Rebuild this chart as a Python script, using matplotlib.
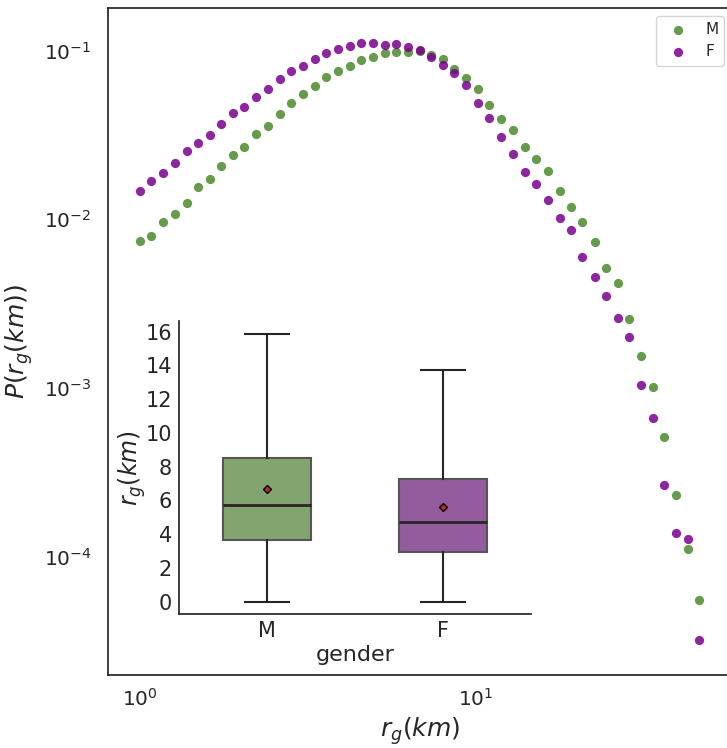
import numpy as np
import matplotlib.pyplot as plt

plt.rcParams['font.family'] = ['DejaVu Sans']
plt.rcParams['mathtext.fontset'] = 'dejavusans'
plt.rcParams['text.color'] = '.15'
plt.rcParams['axes.labelcolor'] = '.15'
plt.rcParams['xtick.color'] = '.15'
plt.rcParams['ytick.color'] = '.15'

# radius of gyration bins (km), log spaced
r_g = [1.00, 1.08, 1.17, 1.27, 1.38, 1.49, 1.62, 1.75, 1.90, 2.05,
       2.22, 2.41, 2.61, 2.83, 3.06, 3.32, 3.59, 3.89, 4.22, 4.57,
       4.95, 5.36, 5.80, 6.29, 6.81, 7.38, 7.99, 8.65, 9.37, 10.15,
       11.0, 11.9, 12.9, 14.0, 15.1, 16.4, 17.8, 19.2, 20.8, 22.6,
       24.5, 26.5, 28.7, 31.1, 33.7, 36.5, 39.5, 42.8, 46.4]

p_male = [0.00746, 0.00795, 0.00967, 0.01078, 0.01247, 0.01545, 0.01739, 0.02077, 0.02390, 0.02667,
          0.03214, 0.03569, 0.04203, 0.04861, 0.05498, 0.06160, 0.06966, 0.07558, 0.08129, 0.08824,
          0.09192, 0.09621, 0.09797, 0.09841, 0.09932, 0.09447, 0.08864, 0.07801, 0.06871, 0.05938,
          0.04751, 0.03926, 0.03395, 0.02667, 0.02284, 0.01940, 0.01476, 0.01181, 0.00962, 0.00729,
          0.00511, 0.00418, 0.00256, 0.001545, 0.001017, 0.000512, 0.000232, 0.0001114, 0.0000555]

p_female = [0.01476, 0.01684, 0.01887, 0.02153, 0.02525, 0.02829, 0.03155, 0.03651, 0.04242, 0.04646,
            0.05302, 0.05886, 0.06746, 0.07593, 0.08129, 0.08864, 0.09621, 0.1025, 0.1068, 0.1113,
            0.1113, 0.1083, 0.1098, 0.1049, 0.1002, 0.09152, 0.08241, 0.07355, 0.06244, 0.04906,
            0.03981, 0.03085, 0.02423, 0.01896, 0.01617, 0.01294, 0.01012, 0.00863, 0.00600, 0.00452,
            0.00350, 0.00261, 0.001995, 0.001041, 0.000660, 0.000266, 0.000138, 0.0001277, 0.0000319]

# box plot summary of r_g per gender
genders = ['M', 'F']
box_q1 = [3.66, 2.93]
box_med = [5.73, 4.74]
box_q3 = [8.50, 7.25]
box_lo = [0.0, 0.0]
box_hi = [15.84, 13.71]
box_mean = [6.70, 5.61]

c_m = '#4a8a2a'
c_f = '#7a0090'
box_colors = ['#82a56f', '#945b9e']

fig = plt.figure(figsize=(7.27, 7.48), dpi=100)
ax = fig.add_axes([108 / 727, 1 - 675 / 748, (732 - 108) / 727, (675 - 8) / 748])

ax.scatter(r_g, p_male, s=44, color=c_m, alpha=0.85, linewidths=0, label='M')
ax.scatter(r_g, p_female, s=44, color=c_f, alpha=0.85, linewidths=0, label='F')
ax.set_xscale('log')
ax.set_yscale('log')
ax.set_xlim(0.805, 58)
ax.set_ylim(1.99e-5, 0.1786)
ax.xaxis.set_minor_formatter(plt.NullFormatter())
ax.yaxis.set_minor_formatter(plt.NullFormatter())
ax.tick_params(which='both', length=0, labelsize=14.5)
ax.tick_params(axis='y', pad=12)
ax.tick_params(axis='x', pad=9)
for s in ax.spines.values():
    s.set_color('.15')
    s.set_linewidth(1.25)
ax.set_xlabel('$r_g(km)$', fontsize=18, labelpad=4)
ax.set_ylabel('$P(r_g(km))$', fontsize=18, labelpad=6)
leg = ax.legend(loc='upper right', fontsize=11, frameon=True, handletextpad=0.8)
leg.get_frame().set_edgecolor('.8')

# inset box plot
ins = fig.add_axes([179 / 727, 1 - 614.3 / 748, (531 - 179) / 727, (614.3 - 321) / 748])
stats = []
for i, g in enumerate(genders):
    stats.append(dict(label=g, q1=box_q1[i], med=box_med[i], q3=box_q3[i],
                      whislo=box_lo[i], whishi=box_hi[i], mean=box_mean[i], fliers=[]))
bp = ins.bxp(stats, positions=[0, 1], widths=0.5, patch_artist=True, showmeans=True,
             boxprops=dict(edgecolor='#555555', linewidth=1.5),
             whiskerprops=dict(color='.15', linewidth=1.5),
             capprops=dict(color='.15', linewidth=1.5),
             medianprops=dict(color='.15', linewidth=2),
             meanprops=dict(marker='D', markerfacecolor='#c0262c', markeredgecolor='black',
                            markersize=4.5, markeredgewidth=1))
for patch, col in zip(bp['boxes'], box_colors):
    patch.set_facecolor(col)
ins.set_xlim(-0.5, 1.5)
ins.set_ylim(-0.75, 16.63)
ins.set_yticks(np.arange(0, 17, 2))
ins.set_xticks([0, 1])
ins.set_xticklabels(genders)
ins.tick_params(length=0, labelsize=15, pad=5)
ins.spines['top'].set_visible(False)
ins.spines['right'].set_visible(False)
for s in ['left', 'bottom']:
    ins.spines[s].set_color('.15')
    ins.spines[s].set_linewidth(1.25)
ins.set_xlabel('gender', fontsize=16, labelpad=3)
ins.set_ylabel('$r_g(km)$', fontsize=17, labelpad=-2)
ins.patch.set_alpha(0)

fig.savefig('out.png', dpi=100)
